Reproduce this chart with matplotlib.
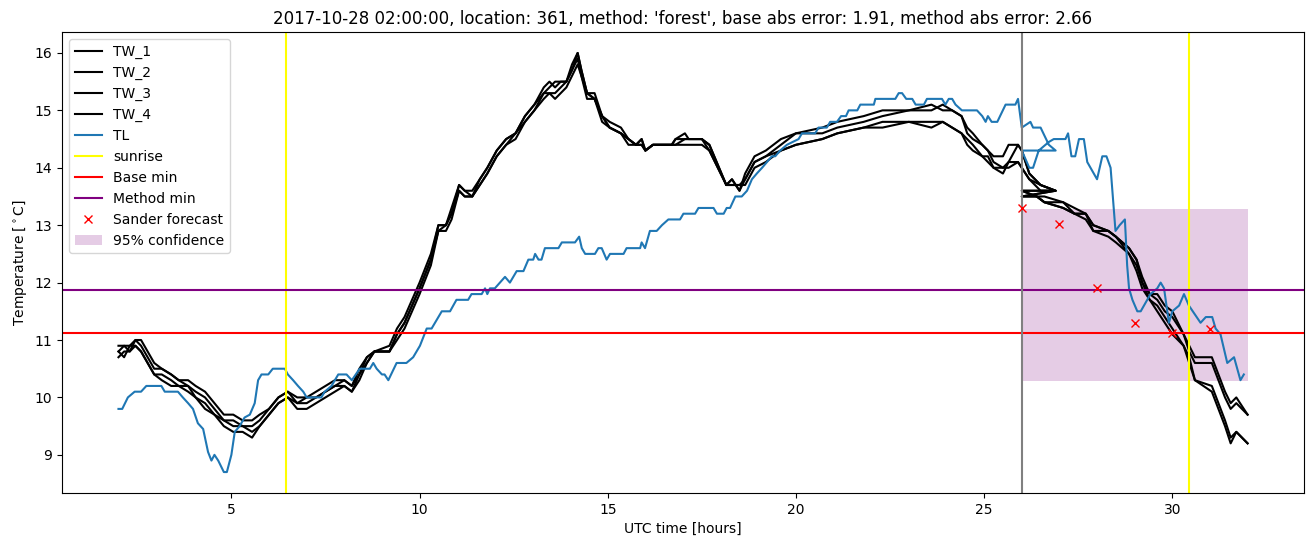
import matplotlib
matplotlib.use("Agg")
import matplotlib.pyplot as plt

# ==================== DATA ====================
title = ("2017-10-28 02:00:00, location: 361, method: 'forest', "
         "base abs error: 1.91, method abs error: 2.66")

# TW lines: first run up to 26.9 h, then the data restarts at 26 h
tw_hours_a = [2.0, 2.15, 2.3, 2.45, 2.6, 2.95, 3.15, 3.4, 3.6, 3.85,
              4.05, 4.3, 4.55, 4.8, 5.05, 5.3, 5.55, 5.75, 6.0, 6.25,
              6.5, 6.75, 7.0, 7.25, 7.5, 7.75, 8.0, 8.2,
              8.4, 8.6, 8.8, 9.2, 9.4, 9.6, 9.8, 10.0, 10.3, 10.5,
              10.7, 10.85, 11.05, 11.2, 11.4, 11.6, 11.8, 12.05,
              12.3, 12.55, 12.8, 13.05, 13.3, 13.45, 13.6, 13.75, 13.9, 14.05,
              14.2, 14.3, 14.45, 14.65, 14.85, 15.05, 15.35, 15.55, 15.75, 15.9,
              16.0, 16.2, 16.7, 16.8, 17.05, 17.15, 17.5, 17.7,
              18.15, 18.3, 18.5, 18.65, 18.9, 19.2, 19.6, 20.0, 20.7, 21.1,
              21.8, 22.3, 23.0, 23.6, 23.9, 24.15, 24.4, 24.55, 24.7, 24.95,
              25.1, 25.25, 25.5, 25.65, 25.9, 26.0, 26.2, 26.5, 26.9]
tw_hours_b = [26.0, 26.4, 26.6, 27.1, 27.4, 27.7, 27.9, 28.3, 28.5, 28.85,
              29.05, 29.2, 29.4, 29.6, 29.8, 30.0, 30.3, 30.45, 30.6, 31.05,
              31.4, 31.55, 31.7, 32.0]

tw1_a = [10.9, 10.9, 10.8, 11.0, 10.9, 10.5, 10.5, 10.4, 10.3, 10.3,
         10.2, 10.1, 9.9, 9.7, 9.7, 9.6, 9.6, 9.7, 9.8, 10.0,
         10.1, 10.0, 10.0, 10.1, 10.2, 10.3, 10.3, 10.2,
         10.5, 10.7, 10.8, 10.9, 11.2, 11.4, 11.7, 12.0, 12.5, 13.0,
         13.0, 13.3, 13.7, 13.6, 13.6, 13.8, 14.0, 14.3,
         14.5, 14.6, 14.9, 15.1, 15.4, 15.5, 15.4, 15.5, 15.5, 15.8,
         16.0, 15.7, 15.3, 15.3, 14.9, 14.8, 14.7, 14.5, 14.4, 14.5,
         14.3, 14.4, 14.4, 14.5, 14.6, 14.5, 14.5, 14.4,
         13.7, 13.8, 13.6, 13.9, 14.2, 14.3, 14.5, 14.6, 14.7, 14.8,
         14.9, 15.0, 15.0, 15.0, 15.1, 15.0, 14.9, 14.7, 14.6, 14.4,
         14.3, 14.2, 14.2, 14.4, 14.4, 14.3, 13.9, 13.7, 13.6]
tw2_a = [10.8, 10.9, 10.9, 11.0, 11.0, 10.6, 10.5, 10.4, 10.3, 10.2,
         10.1, 10.0, 9.8, 9.6, 9.6, 9.5, 9.5, 9.6, 9.8, 10.0,
         10.1, 9.9, 10.0, 10.0, 10.1, 10.2, 10.3, 10.2,
         10.4, 10.7, 10.8, 10.8, 11.1, 11.3, 11.6, 11.9, 12.4, 13.0,
         13.0, 13.2, 13.7, 13.6, 13.5, 13.8, 14.0, 14.3,
         14.5, 14.6, 14.9, 15.1, 15.3, 15.4, 15.5, 15.5, 15.5, 15.7,
         16.0, 15.7, 15.3, 15.2, 14.9, 14.7, 14.6, 14.5, 14.4, 14.4,
         14.3, 14.4, 14.4, 14.4, 14.5, 14.5, 14.5, 14.4,
         13.7, 13.7, 13.7, 13.8, 14.1, 14.2, 14.4, 14.6, 14.6, 14.7,
         14.8, 14.9, 15.0, 15.1, 15.0, 15.0, 14.9, 14.6, 14.5, 14.4,
         14.3, 14.1, 14.0, 14.1, 14.4, 14.3, 13.9, 13.7, 13.6]
tw3_a = [10.8, 10.7, 10.9, 10.9, 10.8, 10.4, 10.4, 10.3, 10.2, 10.2,
         10.0, 9.9, 9.7, 9.6, 9.5, 9.5, 9.4, 9.5, 9.7, 9.9,
         10.0, 9.9, 9.9, 10.0, 10.1, 10.2, 10.2, 10.1,
         10.4, 10.6, 10.8, 10.8, 11.1, 11.3, 11.6, 11.9, 12.4, 12.9,
         13.0, 13.2, 13.6, 13.5, 13.5, 13.7, 13.9, 14.2,
         14.4, 14.6, 14.8, 15.0, 15.3, 15.3, 15.3, 15.4, 15.5, 15.7,
         15.9, 15.6, 15.3, 15.2, 14.9, 14.7, 14.6, 14.5, 14.4, 14.5,
         14.3, 14.4, 14.4, 14.5, 14.5, 14.5, 14.5, 14.3,
         13.7, 13.8, 13.6, 13.8, 14.1, 14.2, 14.3, 14.4, 14.5, 14.6,
         14.7, 14.8, 14.8, 14.8, 14.8, 14.7, 14.6, 14.4, 14.3, 14.2,
         14.2, 14.0, 13.9, 14.1, 14.1, 14.0, 13.8, 13.7, 13.6]
tw4_a = [10.7, 10.8, 10.8, 10.9, 10.8, 10.4, 10.3, 10.2, 10.2, 10.1,
         10.0, 9.8, 9.7, 9.5, 9.4, 9.4, 9.3, 9.5, 9.7, 9.9,
         10.0, 9.8, 9.8, 9.9, 10.0, 10.1, 10.2, 10.1,
         10.3, 10.6, 10.8, 10.8, 11.0, 11.2, 11.5, 11.8, 12.3, 12.9,
         12.9, 13.1, 13.6, 13.5, 13.5, 13.7, 13.9, 14.2,
         14.4, 14.5, 14.8, 15.0, 15.2, 15.3, 15.2, 15.3, 15.4, 15.6,
         15.8, 15.6, 15.2, 15.2, 14.8, 14.7, 14.6, 14.4, 14.4, 14.4,
         14.3, 14.4, 14.4, 14.4, 14.4, 14.4, 14.4, 14.3,
         13.7, 13.7, 13.7, 13.7, 14.0, 14.1, 14.3, 14.4, 14.5, 14.6,
         14.7, 14.7, 14.8, 14.7, 14.8, 14.7, 14.6, 14.5, 14.4, 14.2,
         14.1, 14.0, 14.0, 14.0, 14.1, 14.0, 13.8, 13.6, 13.6]

tw1_b = [13.6, 13.5, 13.4, 13.4, 13.2, 13.2, 13.0, 12.9, 12.8, 12.6,
         12.4, 12.1, 11.8, 11.8, 11.6, 11.5, 11.1, 10.9, 10.7, 10.7,
         10.1, 9.9, 10.0, 9.7]
tw2_b = [13.5, 13.5, 13.4, 13.3, 13.2, 13.2, 12.9, 12.9, 12.8, 12.6,
         12.4, 12.0, 11.8, 11.7, 11.5, 11.4, 11.1, 10.8, 10.6, 10.6,
         10.0, 9.8, 9.9, 9.7]
tw3_b = [13.6, 13.5, 13.5, 13.4, 13.3, 13.2, 13.0, 12.9, 12.8, 12.5,
         12.3, 12.0, 11.7, 11.6, 11.4, 11.2, 10.9, 10.7, 10.3, 10.2,
         9.6, 9.3, 9.4, 9.2]
tw4_b = [13.5, 13.5, 13.4, 13.3, 13.2, 13.1, 12.9, 12.8, 12.7, 12.5,
         12.2, 11.9, 11.7, 11.5, 11.3, 11.1, 10.9, 10.6, 10.3, 10.1,
         9.5, 9.2, 9.4, 9.2]

# TL as (hour, temperature) vertices, also restarting at 26 h
tl_points = [
    (2.0, 9.8), (2.1, 9.8), (2.25, 10.0), (2.43, 10.1), (2.6, 10.1), (2.74, 10.2),
    (3.14, 10.2), (3.23, 10.1), (3.58, 10.1), (3.71, 10.0), (3.85, 9.9), (3.98, 9.8),
    (4.11, 9.55), (4.25, 9.45), (4.38, 9.05), (4.47, 8.9), (4.55, 9.0), (4.65, 8.9),
    (4.8, 8.7), (4.88, 8.7), (5.0, 9.0), (5.09, 9.4), (5.22, 9.5), (5.35, 9.65),
    (5.49, 9.7), (5.62, 9.9), (5.71, 10.3), (5.8, 10.4), (5.98, 10.4), (6.1, 10.5),
    (6.42, 10.5), (6.5, 10.4), (6.64, 10.3), (6.77, 10.2), (6.91, 10.1), (7.0, 10.0),
    (7.39, 10.0), (7.48, 10.1), (7.66, 10.2), (7.84, 10.4), (8.06, 10.4), (8.2, 10.3),
    (8.41, 10.5), (8.68, 10.5), (8.77, 10.6), (8.86, 10.5), (9.0, 10.4), (9.07, 10.4),
    (9.17, 10.3), (9.39, 10.6), (9.65, 10.6), (9.83, 10.7), (10.01, 10.9), (10.19, 11.2),
    (10.32, 11.2), (10.59, 11.5), (10.81, 11.5), (10.98, 11.7), (11.29, 11.7), (11.38, 11.8),
    (11.65, 11.8), (11.74, 11.9), (11.8, 11.8), (11.87, 11.9), (12.0, 11.9), (12.27, 12.1),
    (12.4, 12.0), (12.58, 12.2), (12.76, 12.2), (12.89, 12.4), (13.02, 12.4), (13.07, 12.5),
    (13.16, 12.4), (13.24, 12.4), (13.33, 12.6), (13.69, 12.6), (13.78, 12.7), (14.13, 12.7),
    (14.24, 12.8), (14.31, 12.6), (14.4, 12.5), (14.66, 12.5), (14.75, 12.6), (14.84, 12.6),
    (14.97, 12.4), (15.06, 12.5), (15.42, 12.5), (15.5, 12.6), (15.86, 12.6), (15.9, 12.7),
    (15.99, 12.6), (16.12, 12.9), (16.3, 12.9), (16.44, 13.0), (16.61, 13.1), (16.92, 13.1),
    (17.01, 13.2), (17.32, 13.2), (17.41, 13.3), (17.81, 13.3), (17.9, 13.2), (18.08, 13.2),
    (18.16, 13.3), (18.25, 13.3), (18.39, 13.5), (18.56, 13.5), (18.7, 13.6), (18.83, 13.8),
    (18.96, 13.9), (19.1, 14.0), (19.23, 14.1), (19.36, 14.2), (19.45, 14.2), (19.58, 14.3),
    (19.76, 14.4), (20.07, 14.5), (20.16, 14.6), (20.51, 14.6), (20.6, 14.7), (20.82, 14.7),
    (20.91, 14.8), (21.09, 14.8), (21.2, 14.9), (21.33, 14.9), (21.4, 15.0), (21.63, 15.0),
    (21.71, 15.1), (22.07, 15.1), (22.11, 15.2), (22.64, 15.2), (22.73, 15.3), (22.82, 15.3),
    (22.93, 15.2), (23.09, 15.2), (23.18, 15.1), (23.4, 15.1), (23.48, 15.2), (23.88, 15.2),
    (23.97, 15.1), (24.06, 15.2), (24.15, 15.2), (24.24, 15.1), (24.41, 15.0), (24.81, 15.0),
    (24.95, 14.9), (25.04, 14.8), (25.1, 14.9), (25.2, 14.8), (25.35, 14.8), (25.57, 15.1),
    (25.83, 15.1), (25.9, 15.2), (26.0, 14.7), (26.23, 14.8), (26.3, 14.7), (26.5, 14.7),
    (26.72, 14.4), (26.9, 14.3),
    # restart at 26 h
    (26.0, 14.3), (26.2, 14.0), (26.3, 14.0), (26.45, 14.3), (26.72, 14.45), (26.85, 14.5),
    (27.16, 14.5), (27.23, 14.6), (27.32, 14.2), (27.42, 14.2), (27.52, 14.5), (27.65, 14.5),
    (27.74, 14.1), (28.0, 13.8), (28.14, 14.2), (28.25, 14.2), (28.36, 14.0), (28.49, 12.9),
    (28.6, 13.0), (28.74, 13.1), (28.8, 12.3), (28.85, 11.9), (28.94, 11.7), (29.07, 11.5),
    (29.16, 11.5), (29.42, 11.8), (29.6, 11.9), (29.69, 12.0), (29.78, 11.9), (29.91, 11.3),
    (30.0, 11.5), (30.18, 11.6), (30.31, 11.8), (30.44, 11.6), (30.75, 11.3), (30.89, 11.4),
    (31.06, 11.4), (31.15, 11.2), (31.28, 11.1), (31.46, 10.6), (31.64, 10.7), (31.81, 10.3),
    (31.9, 10.4),
]

sunrise_hours = [6.45, 30.45]
forecast_start = 26.0
base_min = 11.12
method_min = 11.87
sander_hours = [26, 27, 28, 29, 30, 31]
sander_temp = [13.3, 13.02, 11.91, 11.29, 11.12, 11.2]
conf_hours = [26.0, 32.0]
conf_low = 10.29
conf_high = 13.29

# ==================== PLOT ====================
fig, ax = plt.subplots(figsize=(13.11, 5.47), dpi=100)
fig.subplots_adjust(left=0.0473, right=0.9947, top=0.9415, bottom=0.0987)

tw_series = [("TW_1", tw1_a, tw1_b), ("TW_2", tw2_a, tw2_b),
             ("TW_3", tw3_a, tw3_b), ("TW_4", tw4_a, tw4_b)]
for name, part_a, part_b in tw_series:
    ax.plot(tw_hours_a + tw_hours_b, part_a + part_b, color="black", label=name)

tl_hours = [p[0] for p in tl_points]
tl_temp = [p[1] for p in tl_points]
ax.plot(tl_hours, tl_temp, color="tab:blue", label="TL")

for i, h in enumerate(sunrise_hours):
    ax.axvline(h, color="yellow", label="sunrise" if i == 0 else None)
ax.axhline(base_min, color="red", label="Base min")
ax.axhline(method_min, color="purple", label="Method min")
ax.axvline(forecast_start, color="gray")
ax.plot(sander_hours, sander_temp, "rx", label="Sander forecast")
ax.fill_between(conf_hours, conf_low, conf_high, color="purple", alpha=0.2,
                linewidth=0, label="95% confidence", zorder=0)

ax.set_title(title, fontsize=12)
ax.set_xlabel("UTC time [hours]")
ax.set_ylabel(r"Temperature [$^\circ$C]")
ax.legend(loc="upper left")

fig.savefig("out.png", dpi=100)
